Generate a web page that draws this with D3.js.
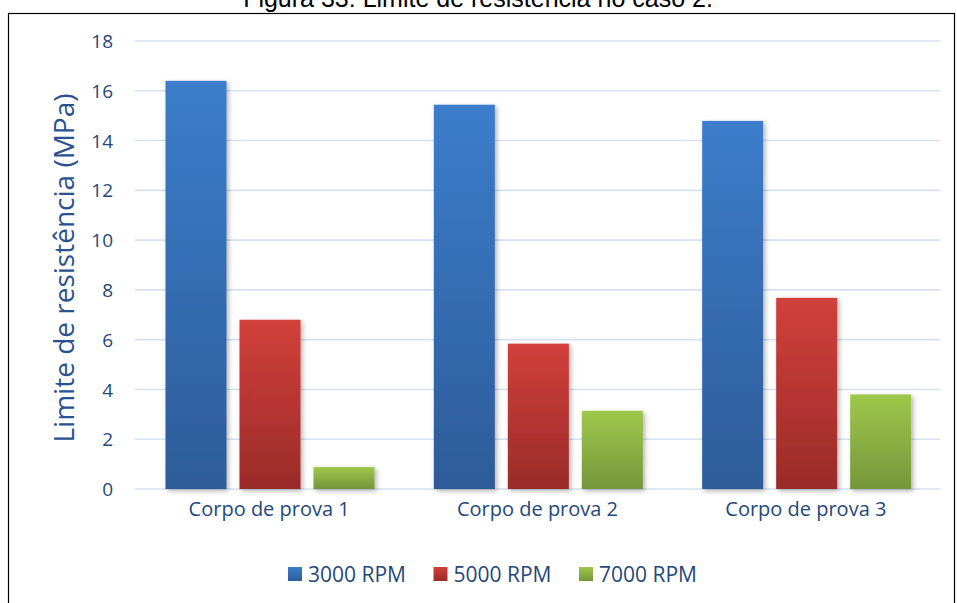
<!DOCTYPE html>
<html>
<head>
<meta charset="utf-8">
<script src="https://cdn.jsdelivr.net/npm/d3@7"></script>
<style>
  html, body { margin: 0; padding: 0; background: #fff; }
  svg { display: block; }
</style>
</head>
<body>
<script>
// Tensile strength limit per specimen, by rotation speed
const categories = ["Corpo de prova 1", "Corpo de prova 2", "Corpo de prova 3"];
const seriesNames = ["3000 RPM", "5000 RPM", "7000 RPM"];
const rpm3000 = [16.4, 15.44, 14.79];
const rpm5000 = [6.8, 5.84, 7.68];
const rpm7000 = [0.88, 3.14, 3.8];
const yTicks = [0, 2, 4, 6, 8, 10, 12, 14, 16, 18];

const seriesValues = [rpm3000, rpm5000, rpm7000];
const gradStops = [
  ["#3C7DCB", "#2D5C99"],
  ["#D2403B", "#9A2B29"],
  ["#9EC84B", "#74963A"]
];

const W = 957, H = 603;
const svg = d3.select("body").append("svg").attr("width", W).attr("height", H);
const defs = svg.append("defs");

gradStops.forEach((c, i) => {
  const g = defs.append("linearGradient").attr("id", "grad" + i)
    .attr("x1", 0).attr("y1", 0).attr("x2", 0).attr("y2", 1);
  g.append("stop").attr("offset", "0%").attr("stop-color", c[0]);
  g.append("stop").attr("offset", "100%").attr("stop-color", c[1]);
});
const sh = defs.append("filter").attr("id", "shadow")
  .attr("x", "-20%").attr("y", "-10%").attr("width", "150%").attr("height", "130%");
sh.append("feDropShadow").attr("dx", 2).attr("dy", 2).attr("stdDeviation", 2.5)
  .attr("flood-color", "#000").attr("flood-opacity", 0.3);

// Caption above the frame
svg.append("text")
  .attr("x", 478).attr("y", 7)
  .attr("text-anchor", "middle")
  .attr("font-family", "Liberation Sans, Arial, sans-serif")
  .attr("font-size", 25)
  .attr("fill", "#000")
  .text("Figura 33: Limite de resistência no caso 2.");

// Frame
svg.append("rect")
  .attr("x", 8.5).attr("y", 13.5).attr("width", 946).attr("height", 620)
  .attr("fill", "none").attr("stroke", "#000").attr("stroke-width", 1.2);

const font = "Open Sans, sans-serif";
const textCol = "#25487A";

const y = d3.scaleLinear().domain([0, 18]).range([489, 41]);
const x0 = d3.scaleBand().domain(categories).range([135, 940]).padding(0);
const x1 = d3.scaleBand().domain(seriesNames)
  .range([30.5, x0.bandwidth() - 28.8]).paddingInner(13 / 74).paddingOuter(0);

// Gridlines
svg.append("g").selectAll("line").data(yTicks).join("line")
  .attr("x1", 135).attr("x2", 940)
  .attr("y1", d => y(d)).attr("y2", d => y(d))
  .attr("stroke", "#D6E1F1").attr("stroke-width", 1.6);

// Y axis labels
const yAxis = d3.axisLeft(y).tickValues(yTicks).tickSize(0).tickPadding(0).tickFormat(d3.format("d"));
const ya = svg.append("g").attr("transform", "translate(113,0)").call(yAxis);
ya.select(".domain").remove();
ya.selectAll("text").attr("font-family", font).attr("font-size", 19).attr("fill", textCol).attr("dy", "0.35em");

// Y axis title
svg.append("text")
  .attr("transform", "translate(74,268) rotate(-90)")
  .attr("text-anchor", "middle")
  .attr("font-family", font).attr("font-size", 28).attr("fill", "#2A5190")
  .text("Limite de resistência (MPa)");

// Bars
const groups = svg.append("g").selectAll("g").data(categories).join("g")
  .attr("transform", d => `translate(${x0(d)},0)`);
groups.selectAll("rect")
  .data((d, ci) => seriesNames.map((s, si) => ({ s, si, v: seriesValues[si][ci] })))
  .join("rect")
  .attr("x", d => x1(d.s))
  .attr("width", x1.bandwidth())
  .attr("y", d => y(d.v))
  .attr("height", d => y(0) - y(d.v))
  .attr("fill", d => `url(#grad${d.si})`)
  .attr("filter", "url(#shadow)");

// Category labels
const xAxis = d3.axisBottom(x0).tickSize(0).tickPadding(0);
const xa = svg.append("g").attr("transform", "translate(0,516)").call(xAxis);
xa.select(".domain").remove();
xa.selectAll("text").attr("font-family", font).attr("font-size", 20).attr("fill", textCol).attr("dy", "0");

// Legend
const legend = svg.append("g").selectAll("g").data(seriesNames).join("g")
  .attr("transform", (d, i) => `translate(${288 + i * 145.5},567)`);
legend.append("rect").attr("width", 14).attr("height", 14)
  .attr("fill", (d, i) => `url(#grad${i})`);
legend.append("text").attr("x", 20).attr("y", 14.5)
  .attr("font-family", font).attr("font-size", 21).attr("fill", textCol)
  .text(d => d);
</script>
</body>
</html>
